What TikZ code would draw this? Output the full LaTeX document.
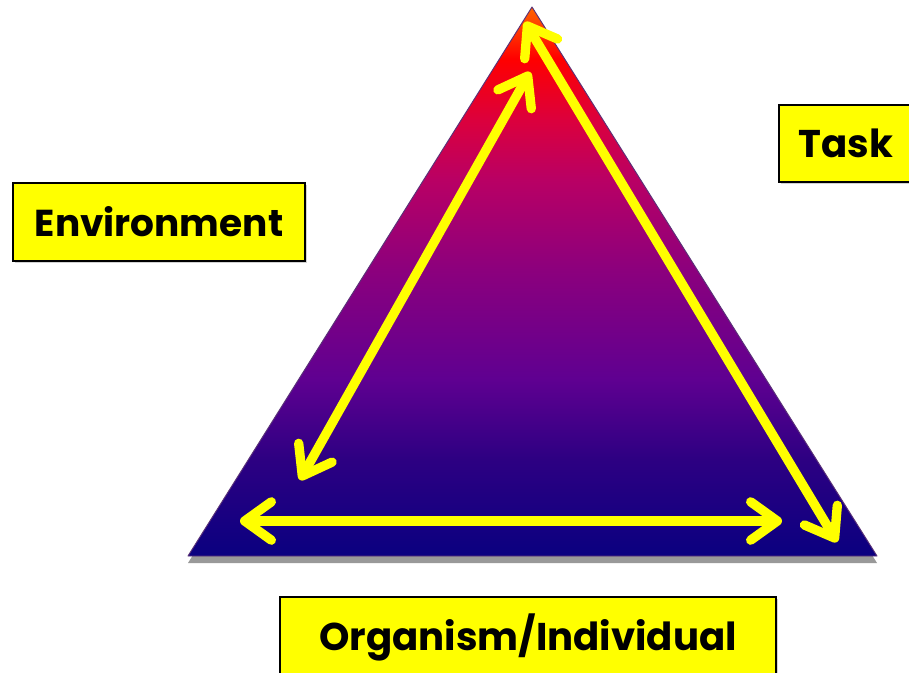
\documentclass[tikz,border=0pt]{standalone}
\usepackage{fontspec}
\setmainfont{Poppins}
\usepackage{tikz}
\usetikzlibrary{arrows.meta, positioning, shadows}
\definecolor{trinavy}{RGB}{10, 0, 128}
\definecolor{trideep}{RGB}{45, 0, 130}
\definecolor{tripurple}{RGB}{95, 0, 145}
\definecolor{triplum}{RGB}{140, 0, 125}
\definecolor{trimagenta}{RGB}{185, 0, 100}
\definecolor{tricrimson}{RGB}{220, 0, 60}
\definecolor{trired}{RGB}{255, 0, 0}
\definecolor{triorange}{RGB}{255, 100, 0}
\definecolor{triedge}{RGB}{90, 50, 120}
\definecolor{arrowyellow}{RGB}{255, 255, 0}
\pgfdeclareverticalshading{trishade}{100bp}{
  color(0bp)=(trinavy); color(25bp)=(trinavy); color(33.8bp)=(trideep);
  color(41.1bp)=(tripurple); color(51.1bp)=(triplum); color(59.3bp)=(trimagenta);
  color(64.8bp)=(tricrimson); color(70.3bp)=(trired); color(75bp)=(triorange);
  color(100bp)=(triorange)}

\begin{document}
\begin{tikzpicture}[
  x=0.03cm, y=-0.03cm,
  lbox/.style={draw=black, line width=1.5pt, fill=arrowyellow, inner sep=0pt, font=\bfseries\fontsize{33}{36}\selectfont, drop shadow={shadow xshift=1.5pt, shadow yshift=-1.5pt, opacity=0.35}},
  link/.style={draw=arrowyellow, line width=0.28cm, line cap=round, {Straight Barb[round, length=0.8cm, width=1.15cm]}-{Straight Barb[round, length=0.8cm, width=1.15cm]}, preaction={draw=black, opacity=0.3, transform canvas={shift={(1.5pt,-1.5pt)}}}}
]
  \clip (0,0) rectangle (909,672);
  \fill[white] (0,0) rectangle (909,672);

  % triangle
  \fill[gray!80] (188,563) -- (532,15) -- (877,563) -- cycle;
  \shade[shading=trishade] (188,556) -- (532,7) -- (877,556) -- cycle;
  \draw[triedge, line width=0.8pt, line join=round] (188,556) -- (532,7) -- (877,556) -- cycle;

  \node[lbox, minimum width=292*0.03cm, minimum height=78*0.03cm, font=\bfseries\fontsize{32}{36}\selectfont] (env) at (159,222) {Environment};
  \node[lbox, minimum width=134*0.03cm, minimum height=77*0.03cm] (task) at (846,143.5) {Task};
  \node[lbox, minimum width=496*0.03cm, minimum height=80*0.03cm] (org) at (528,637) {Organism/Individual};

  \coordinate (envTop) at (530,72);
  \coordinate (envBot) at (300,480);
  \coordinate (taskTop) at (525,22);
  \coordinate (taskBot) at (837,542);
  \coordinate (orgLeft) at (240,521);
  \coordinate (orgRight) at (782,521);

  \draw[link] (envTop) -- (envBot);
  \draw[link] (taskTop) -- (taskBot);
  \draw[link] (orgLeft) -- (orgRight);
\end{tikzpicture}
\end{document}
